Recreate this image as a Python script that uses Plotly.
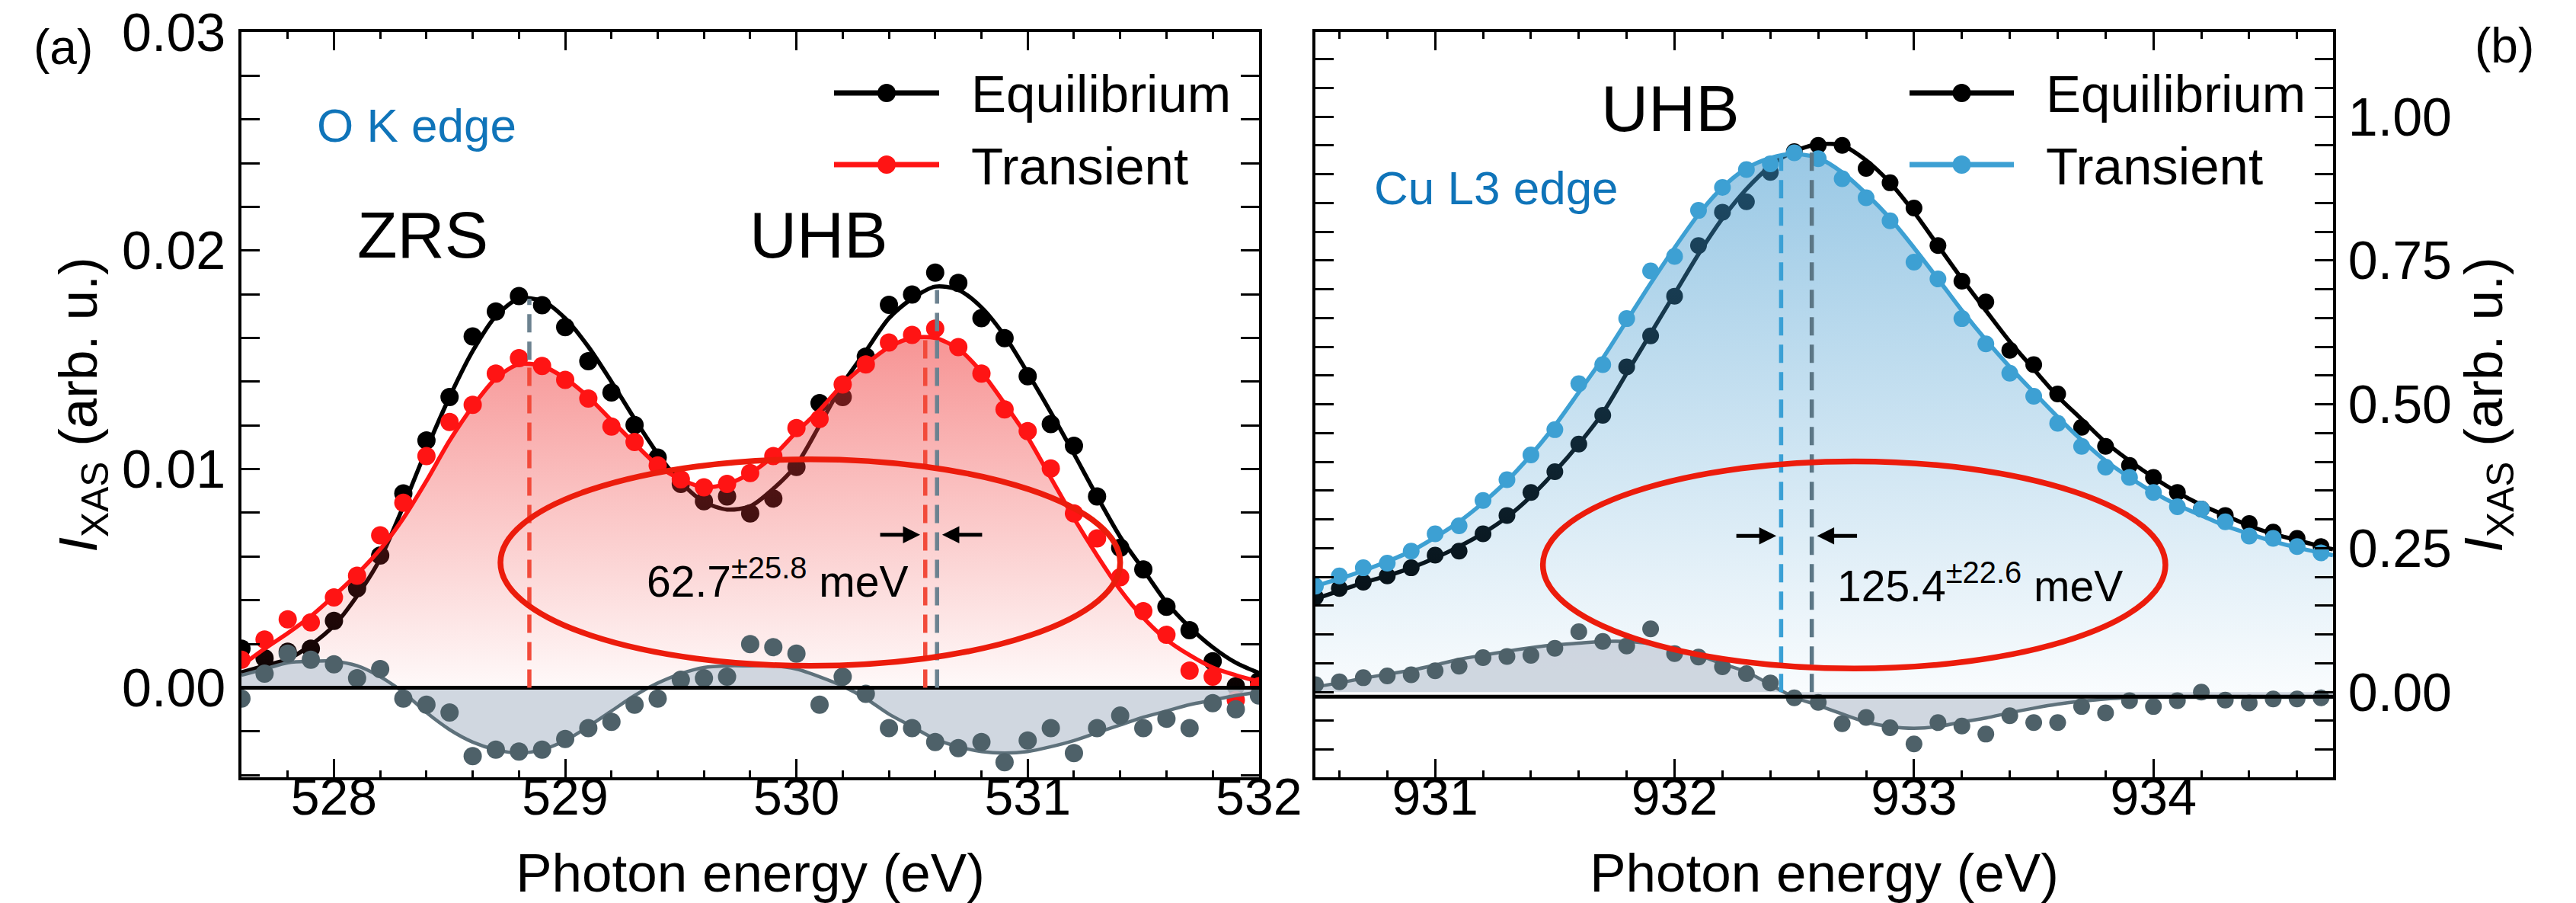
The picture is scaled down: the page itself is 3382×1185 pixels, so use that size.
import plotly.graph_objects as go

# ---------------- Panel (a): O K edge (intensities in units of 1e-3 arb. u.) ----------------
energy_a = [527.6, 527.7, 527.8, 527.9, 528.0, 528.1, 528.2, 528.3, 528.4, 528.5,
            528.6, 528.7, 528.8, 528.9, 529.0, 529.1, 529.2, 529.3, 529.4, 529.5,
            529.6, 529.7, 529.8, 529.9, 530.0, 530.1, 530.2, 530.3, 530.4, 530.5,
            530.6, 530.7, 530.8, 530.9, 531.0, 531.1, 531.2, 531.3, 531.4, 531.5,
            531.6, 531.7, 531.8, 531.9, 532.0]
eq_pts_a = [1.78, 1.35, 1.64, 1.78, 3.06, 4.55, 6.05, 8.89, 11.31, 13.30,
            16.07, 17.21, 17.92, 17.50, 16.50, 14.94, 13.51, 12.02, 10.53, 9.32,
            8.53, 8.75, 7.97, 8.65, 10.10, 13.02, 13.30, 15.15, 17.52, 17.99,
            18.99, 18.52, 16.91, 15.99, 14.25, 12.06, 11.07, 8.75, 6.40, 5.41,
            3.70, 2.63, 1.21, 0.07, 0.30]
tr_pts_a = [1.28, 2.20, 3.13, 2.99, 4.13, 5.12, 6.97, 8.46, 10.60, 12.16,
            12.94, 14.37, 15.08, 14.72, 14.08, 13.23, 11.95, 11.24, 10.17, 9.53,
            9.17, 9.32, 9.82, 10.60, 11.88, 12.30, 13.87, 14.79, 15.79, 16.14,
            16.43, 15.58, 14.37, 12.73, 11.74, 10.03, 7.97, 6.83, 5.05, 3.50,
            2.42, 0.78, 0.50, -0.57, 0.07]
diff_pts_a = [-0.50, 0.64, 1.56, 1.28, 1.07, 0.43, 0.85, -0.50, -0.78, -1.14,
              -3.13, -2.84, -2.92, -2.84, -2.35, -1.85, -1.56, -0.78, -0.50, 0.36,
              0.43, 0.50, 1.99, 1.85, 1.56, -0.78, 0.50, -0.28, -1.85, -1.85,
              -2.49, -2.77, -2.49, -3.41, -2.42, -1.85, -2.99, -1.85, -1.28, -1.85,
              -1.42, -1.85, -0.71, -0.99, -0.36]
eq_fit_a = [0.70, 1.00, 1.30, 1.95, 2.84, 4.20, 5.90, 8.30, 10.90, 13.30,
            15.40, 17.00, 17.80, 17.70, 16.90, 15.60, 14.00, 12.30, 10.70, 9.40,
            8.50, 8.15, 8.30, 9.10, 10.20, 12.00, 13.90, 15.40, 16.90, 17.80,
            18.35, 18.20, 17.40, 16.10, 14.40, 12.60, 10.70, 8.75, 6.90, 5.40,
            3.90, 2.77, 1.85, 1.14, 0.67]
tr_fit_a = [1.00, 1.78, 2.49, 3.27, 4.20, 5.19, 6.33, 7.75, 9.46, 11.30,
            12.87, 14.15, 14.80, 14.72, 14.15, 13.30, 12.23, 11.17, 10.17, 9.53,
            9.17, 9.32, 9.81, 10.60, 11.70, 12.70, 13.87, 14.80, 15.58, 16.00,
            16.00, 15.50, 14.44, 13.00, 11.45, 9.60, 7.75, 6.05, 4.48, 3.20,
            2.20, 1.49, 0.92, 0.57, 0.28]
diff_fit_a = [0.57, 0.85, 1.14, 1.21, 1.21, 1.00, 0.50, -0.21, -1.14, -1.92,
              -2.49, -2.84, -2.99, -2.84, -2.42, -1.78, -1.07, -0.36, 0.21, 0.64,
              0.92, 1.00, 1.00, 1.00, 0.85, 0.50, 0.07, -0.50, -1.21, -1.78,
              -2.35, -2.70, -2.92, -2.99, -2.92, -2.70, -2.42, -2.06, -1.71, -1.35,
              -1.07, -0.78, -0.57, -0.36, -0.21]

# ---------------- Panel (b): Cu L3 edge ----------------
energy_b = [930.5, 930.6, 930.7, 930.8, 930.9, 931.0, 931.1, 931.2, 931.3, 931.4,
            931.5, 931.6, 931.7, 931.8, 931.9, 932.0, 932.1, 932.2, 932.3, 932.4,
            932.5, 932.6, 932.7, 932.8, 932.9, 933.0, 933.1, 933.2, 933.3, 933.4,
            933.5, 933.6, 933.7, 933.8, 933.9, 934.0, 934.1, 934.2, 934.3, 934.4,
            934.5, 934.6, 934.7]
eq_pts_b = [0.165, 0.180, 0.191, 0.202, 0.216, 0.238, 0.245, 0.275, 0.307, 0.347,
            0.383, 0.431, 0.481, 0.565, 0.619, 0.688, 0.776, 0.834, 0.852, 0.903,
            0.939, 0.950, 0.950, 0.910, 0.885, 0.841, 0.776, 0.714, 0.678, 0.594,
            0.569, 0.518, 0.460, 0.427, 0.394, 0.373, 0.347, 0.318, 0.307, 0.293,
            0.278, 0.267, 0.253]
tr_pts_b = [0.184, 0.202, 0.216, 0.224, 0.245, 0.275, 0.289, 0.333, 0.369, 0.412,
            0.456, 0.536, 0.569, 0.649, 0.732, 0.757, 0.837, 0.877, 0.908, 0.918,
            0.937, 0.927, 0.892, 0.859, 0.819, 0.747, 0.718, 0.649, 0.605, 0.554,
            0.514, 0.467, 0.427, 0.391, 0.373, 0.347, 0.322, 0.318, 0.296, 0.271,
            0.267, 0.253, 0.242]
diff_pts_b = [0.013, 0.018, 0.025, 0.028, 0.030, 0.037, 0.045, 0.060, 0.062, 0.064,
              0.076, 0.105, 0.088, 0.080, 0.110, 0.067, 0.061, 0.044, 0.032, 0.016,
              -0.010, -0.018, -0.055, -0.044, -0.062, -0.090, -0.053, -0.059, -0.073, -0.041,
              -0.053, -0.053, -0.025, -0.036, -0.015, -0.025, -0.015, 0.000, -0.014, -0.019,
              -0.012, -0.012, -0.010]
energy_fit_b = energy_b + [934.75]
eq_fit_b = [0.162, 0.176, 0.190, 0.202, 0.216, 0.233, 0.253, 0.276, 0.304, 0.340,
            0.383, 0.431, 0.485, 0.554, 0.623, 0.692, 0.761, 0.823, 0.874, 0.914,
            0.940, 0.952, 0.950, 0.924, 0.885, 0.834, 0.776, 0.718, 0.663, 0.609,
            0.561, 0.514, 0.474, 0.434, 0.402, 0.373, 0.347, 0.325, 0.307, 0.289,
            0.275, 0.264, 0.253, 0.248]
tr_fit_b = [0.184, 0.197, 0.211, 0.227, 0.245, 0.269, 0.296, 0.329, 0.367, 0.412,
            0.463, 0.521, 0.580, 0.645, 0.710, 0.772, 0.830, 0.877, 0.910, 0.928,
            0.935, 0.928, 0.903, 0.866, 0.823, 0.772, 0.718, 0.663, 0.612, 0.565,
            0.521, 0.478, 0.438, 0.402, 0.373, 0.347, 0.325, 0.307, 0.289, 0.275,
            0.262, 0.251, 0.242, 0.238]
diff_fit_b = [0.009, 0.016, 0.024, 0.031, 0.038, 0.047, 0.057, 0.064, 0.071, 0.077,
              0.082, 0.085, 0.088, 0.088, 0.084, 0.075, 0.064, 0.049, 0.035, 0.013,
              -0.009, -0.023, -0.038, -0.052, -0.060, -0.063, -0.060, -0.052, -0.045, -0.036,
              -0.028, -0.021, -0.016, -0.012, -0.010, -0.009, -0.009, -0.009, -0.009, -0.009,
              -0.009, -0.009, -0.009, -0.009]

# peak-position markers: (energy, top, bottom, colour); panel (a) values in 1e-3
peak_lines_a = [(528.845, 17.8, 15.0, "#6c8290"), (528.845, 15.0, 0.0, "#f24a3a"),
                (530.557, 15.9, 0.0, "#f24a3a"), (530.608, 18.2, 0.0, "#6c8290")]
peak_lines_b = [(932.445, 0.935, 0.0, "#3aa0d5"), (932.573, 0.950, 0.0, "#5b7685")]

xticks_a = [528, 529, 530, 531, 532]
yticks_a = [0.0, 0.01, 0.02, 0.03]
xticks_b = [931, 932, 933, 934]
yticks_b = [0.0, 0.25, 0.5, 0.75, 1.0]


def s(v):
    return [x * 1e-3 for x in v]


W, H = 3382, 1185
FONT = "Liberation Sans, Arial, Helvetica, sans-serif"
RED = "#ff1414"
BLUE = "#3da0d3"
DGREY = "#4e6169"
LGREY = "#5e717b"
DFILL = "rgba(200,208,218,0.85)"
TEXTBLUE = "#0f74b9"
LW = 5.5
MS_A = 24
MS_B = 22
SPL = dict(shape="spline", smoothing=0.8)

fig = go.Figure()

# ----- panel a traces -----
fig.add_trace(go.Scatter(x=energy_a, y=s(eq_fit_a), mode="lines",
                         line=dict(color="black", width=LW, **SPL), xaxis="x", yaxis="y"))
fig.add_trace(go.Scatter(x=energy_a, y=s(eq_pts_a), mode="markers",
                         marker=dict(color="black", size=MS_A), xaxis="x", yaxis="y"))
fig.add_trace(go.Scatter(x=energy_a, y=s(tr_fit_a), mode="lines",
                         line=dict(width=0, **SPL), fill="tozeroy",
                         fillgradient=dict(type="vertical",
                                           colorscale=[[0, "rgba(240,60,60,0.03)"],
                                                       [1, "rgba(240,60,60,0.55)"]],
                                           start=0, stop=0.0161),
                         xaxis="x", yaxis="y"))
fig.add_trace(go.Scatter(x=energy_a, y=s(tr_fit_a), mode="lines",
                         line=dict(color=RED, width=LW, **SPL), xaxis="x", yaxis="y"))
fig.add_trace(go.Scatter(x=energy_a, y=s(tr_pts_a), mode="markers",
                         marker=dict(color=RED, size=MS_A), xaxis="x", yaxis="y"))
fig.add_trace(go.Scatter(x=energy_a, y=s(diff_fit_a), mode="lines",
                         line=dict(color=LGREY, width=4.5, **SPL),
                         fill="tozeroy", fillcolor=DFILL, xaxis="x", yaxis="y"))
fig.add_trace(go.Scatter(x=energy_a, y=s(diff_pts_a), mode="markers",
                         marker=dict(color=DGREY, size=MS_A), xaxis="x", yaxis="y"))

# ----- panel b traces -----
fig.add_trace(go.Scatter(x=energy_fit_b, y=eq_fit_b, mode="lines",
                         line=dict(color="black", width=LW, **SPL), xaxis="x2", yaxis="y2"))
fig.add_trace(go.Scatter(x=energy_b, y=eq_pts_b, mode="markers",
                         marker=dict(color="black", size=MS_B), xaxis="x2", yaxis="y2"))
fig.add_trace(go.Scatter(x=energy_fit_b, y=tr_fit_b, mode="lines",
                         line=dict(width=0, **SPL), fill="tozeroy",
                         fillgradient=dict(type="vertical",
                                           colorscale=[[0, "rgba(60,150,205,0.03)"],
                                                       [1, "rgba(60,150,205,0.52)"]],
                                           start=0, stop=0.935),
                         xaxis="x2", yaxis="y2"))
fig.add_trace(go.Scatter(x=energy_fit_b, y=tr_fit_b, mode="lines",
                         line=dict(color=BLUE, width=LW, **SPL), xaxis="x2", yaxis="y2"))
fig.add_trace(go.Scatter(x=energy_b, y=tr_pts_b, mode="markers",
                         marker=dict(color=BLUE, size=MS_B), xaxis="x2", yaxis="y2"))
fig.add_trace(go.Scatter(x=energy_fit_b, y=diff_fit_b, mode="lines",
                         line=dict(color=LGREY, width=4.5, **SPL),
                         fill="tozeroy", fillcolor=DFILL, xaxis="x2", yaxis="y2"))
fig.add_trace(go.Scatter(x=energy_b, y=diff_pts_b, mode="markers",
                         marker=dict(color=DGREY, size=MS_B), xaxis="x2", yaxis="y2"))

# empty traces that attach the label-only x axes
fig.add_trace(go.Scatter(x=[], y=[], xaxis="x3", yaxis="y", hoverinfo="skip"))
fig.add_trace(go.Scatter(x=[], y=[], xaxis="x4", yaxis="y2", hoverinfo="skip"))

# ----- shapes -----
shapes = []
shapes.append(dict(type="line", xref="x domain", yref="y", x0=0, x1=1, y0=0, y1=0,
                   line=dict(color="black", width=5)))
shapes.append(dict(type="line", xref="x2 domain", yref="y2", x0=0, x1=1, y0=-0.008, y1=-0.008,
                   line=dict(color="black", width=5)))
for (xe, y1, y0, c) in peak_lines_a:
    shapes.append(dict(type="line", xref="x", yref="y", x0=xe, x1=xe, y0=y0 * 1e-3, y1=y1 * 1e-3,
                       line=dict(color=c, width=5.5, dash="24px,12px")))
for (xe, y1, y0, c) in peak_lines_b:
    shapes.append(dict(type="line", xref="x2", yref="y2", x0=xe, x1=xe, y0=y0, y1=y1,
                       line=dict(color=c, width=5.5, dash="24px,12px")))
shapes.append(dict(type="circle", xref="x", yref="y", x0=528.72, x1=531.40, y0=0.0010, y1=0.01045,
                   line=dict(color="#ec1c0c", width=7.5)))
shapes.append(dict(type="circle", xref="x2", yref="y2", x0=931.45, x1=934.05, y0=0.041, y1=0.401,
                   line=dict(color="#ec1c0c", width=7.5)))


def px(x):
    return x / W


def py(y):
    return 1 - y / H


legend_items = [
    (1095, 1233, 122, "black", "Equilibrium"),
    (1095, 1233, 216, RED, "Transient"),
    (2507, 2644, 122, "black", "Equilibrium"),
    (2507, 2644, 216, BLUE, "Transient"),
]
annotations = []
for (xa, xb, yy, c, lab) in legend_items:
    shapes.append(dict(type="line", xref="paper", yref="paper", x0=px(xa), x1=px(xb),
                       y0=py(yy), y1=py(yy), line=dict(color=c, width=7)))
    shapes.append(dict(type="circle", xref="paper", yref="paper", xsizemode="pixel",
                       ysizemode="pixel", xanchor=px((xa + xb) / 2), yanchor=py(yy),
                       x0=-12, x1=12, y0=-12, y1=12, fillcolor=c, line=dict(width=0)))
    annotations.append(dict(x=px(xb + 40), y=py(yy + 2), xref="paper", yref="paper",
                            xanchor="left", yanchor="middle", showarrow=False, text=lab,
                            font=dict(size=69, color="black", family=FONT)))


def label(x, y, text, size, color="black", xanchor="center"):
    return dict(x=px(x), y=py(y), xref="paper", yref="paper", text=text, showarrow=False,
                xanchor=xanchor, yanchor="middle",
                font=dict(size=size, color=color, family=FONT))


annotations += [
    label(83, 62, "(a)", 64),
    label(3288, 60, "(b)", 64),
    label(414, 164, "O K edge", 62, TEXTBLUE, "left"),
    label(1802, 247, "Cu L3 edge", 62, TEXTBLUE, "left"),
    label(555, 308, "ZRS", 86),
    label(1075, 308, "UHB", 86),
    label(2193, 142, "UHB", 86),
    dict(x=529.347, y=0.00500, xref="x", yref="y", xanchor="left", yanchor="middle",
         text="62.7<sup>±25.8</sup> meV", showarrow=False,
         font=dict(size=57, color="black", family=FONT)),
    dict(x=932.672, y=0.190, xref="x2", yref="y2", xanchor="left", yanchor="middle",
         text="125.4<sup>±22.6</sup> meV", showarrow=False,
         font=dict(size=57, color="black", family=FONT)),
]
for (xh, yh, ax, xr, yr) in [(530.535, 0.0070, -54, "x", "y"), (530.630, 0.0070, 54, "x", "y"),
                            (932.425, 0.2715, -54, "x2", "y2"), (932.595, 0.2715, 54, "x2", "y2")]:
    annotations.append(dict(x=xh, y=yh, xref=xr, yref=yr, ax=ax, ay=0, text="",
                            showarrow=True, arrowhead=2, arrowsize=0.9, arrowwidth=5,
                            arrowcolor="black"))

axis_common = dict(showline=True, linecolor="black", linewidth=3.5, mirror="allticks",
                   ticks="inside", ticklen=24, tickwidth=3, tickcolor="black",
                   showgrid=False, zeroline=False, automargin=False)
minor_common = dict(ticks="inside", ticklen=9, tickwidth=2.5, tickcolor="black")
XTF = dict(size=68, color="black", family=FONT)
YTF = dict(size=70, color="black", family=FONT)
TITLEF = dict(size=71, color="black", family=FONT)

xdomain_a = [317 / W, 1653 / W]
xdomain_b = [1727 / W, 3063 / W]
ydomain = [1 - 1020 / H, 1 - 42 / H]
label_axis_pos = 1 - 1000 / H   # x tick labels sit a little closer to the frame

range_a = [527.6, 532.0005]
range_b = [930.5, 934.75]

label_axis = dict(anchor="free", position=label_axis_pos, showline=False, ticks="",
                  showgrid=False, zeroline=False, automargin=False, tickfont=XTF,
                  ticklabelstandoff=0, tickmode="array")

fig.update_layout(
    width=W, height=H,
    margin=dict(l=0, r=0, t=0, b=0, autoexpand=False),
    paper_bgcolor="white", plot_bgcolor="white",
    showlegend=False,
    font=dict(family=FONT, color="black"),
    xaxis=dict(domain=xdomain_a, anchor="y", range=range_a,
               tickmode="array", tickvals=xticks_a, showticklabels=False,
               minor=dict(dtick=0.2, tick0=528, **minor_common), **axis_common),
    xaxis3=dict(overlaying="x", range=range_a, tickvals=xticks_a,
                ticktext=[str(t) for t in xticks_a],
                title=dict(text="Photon energy (eV)", font=TITLEF, standoff=38),
                **label_axis),
    yaxis=dict(domain=ydomain, anchor="x", range=[-0.0041, 0.0300],
               tickmode="array", tickvals=yticks_a, tickformat=".2f",
               minor=dict(dtick=0.002, tick0=0, **minor_common),
               tickfont=YTF, ticklabelstandoff=3,
               title=dict(text="<i>I</i><sub>XAS</sub> (arb. u.)", font=TITLEF, standoff=10),
               **axis_common),
    xaxis2=dict(domain=xdomain_b, anchor="y2", range=range_b,
                tickmode="array", tickvals=xticks_b, showticklabels=False,
                minor=dict(dtick=0.2, tick0=931, **minor_common), **axis_common),
    xaxis4=dict(overlaying="x2", range=range_b, tickvals=xticks_b,
                ticktext=[str(t) for t in xticks_b],
                title=dict(text="Photon energy (eV)", font=TITLEF, standoff=38),
                **label_axis),
    yaxis2=dict(domain=ydomain, anchor="x2", side="right", range=[-0.148, 1.147],
                tickmode="array", tickvals=yticks_b, tickformat=".2f",
                minor=dict(dtick=0.05, tick0=0, **minor_common),
                tickfont=YTF, ticklabelstandoff=2,
                title=dict(text="<i>I</i><sub>XAS</sub> (arb. u.)", font=TITLEF, standoff=18),
                **axis_common),
    shapes=shapes,
    annotations=annotations,
)

fig.write_html("out.html")
